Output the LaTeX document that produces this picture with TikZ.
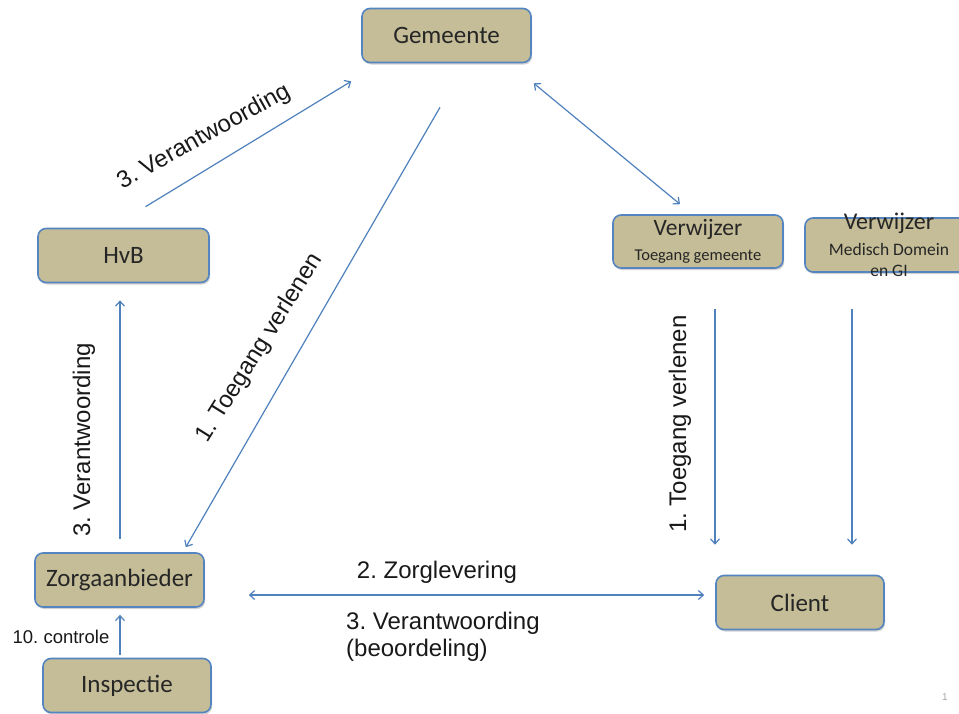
\documentclass[tikz,border=0pt]{standalone}
\usepackage{fontspec}
\setmainfont{Liberation Sans}
\newfontfamily\boxfont{Carlito}
\usetikzlibrary{arrows.meta,shadows,calc}
\definecolor{boxfill}{RGB}{196,189,151}
\definecolor{boxline}{RGB}{84,133,192}
\definecolor{arrline}{RGB}{79,129,189}
\frenchspacing
\tikzset{
  box/.style={draw=boxline, line width=1.6pt, fill=boxfill, rounded corners=8pt,
    minimum width=#1, minimum height=54pt, inner sep=0pt,
    drop shadow={opacity=0.35, shadow xshift=1.2pt, shadow yshift=-2pt},
    font=\boxfont\fontsize{25}{27}\selectfont, text=black!85},
  box/.default=169pt,
  boxtxt/.style={inner sep=0pt, anchor=base, text=black!85, font=\boxfont\fontsize{#1}{#1}\selectfont},
  arr/.style={draw=arrline, line width=1.2pt, -{Straight Barb[length=5pt,width=9pt]}},
  darr/.style={draw=arrline, line width=1.2pt, {Straight Barb[length=5pt,width=9pt]}-{Straight Barb[length=5pt,width=9pt]}},
  lbl/.style={font=\fontsize{24}{28}\selectfont, text=black!90, inner sep=0pt},
}
\begin{document}
\begin{tikzpicture}[x=1pt,y=-1pt]
\useasboundingbox (0,0) rectangle (959,713);
\clip (0,0) rectangle (959,713);
\fill[white] (0,0) rectangle (959,713);

% boxes
\node[box] (gem) at (446.5,35.5) {Gemeente};
\node[box=171pt] (hvb) at (123.5,255.5) {HvB};
\node[box=170pt, minimum height=53pt] (verw1) at (698,241.5) {};
\node[boxtxt=23.5] (verw1a) at (698,235) {Verwijzer};
\node[boxtxt=16.5] (verw1b) at (698,260) {Toegang gemeente};
\node[box=170pt] (verw2) at (890,245) {};
\node[boxtxt=24] (verw2a) at (889,229) {Verwijzer};
\node[boxtxt=17.5] (verw2b) at (889,255) {Medisch Domein};
\node[boxtxt=17.5] (verw2c) at (889,276) {en GI};
\node[box] (zorg) at (119.5,580) {Zorgaanbieder};
\node[box=168pt] (client) at (800,602.5) {Client};
\node[box=168pt] (insp) at (127,685.5) {Inspectie};

% connectors
\draw[arr] ([shift={(22,-21)}]hvb.north) -- ([shift={(-10,18)}]gem.south west);
\draw[arr] ([shift={(-6.5,44)}]gem.south) -- ([shift={(-19,-5)}]zorg.north east);
\draw[darr] ([shift={(2,20)}]gem.south east) -- ([shift={(-18,-10)}]verw1.north);
\draw[arr] ([shift={(0.5,-13)}]zorg.north) -- ([shift={(-3.5,17)}]hvb.south);
\draw[arr] ([shift={(17,40)}]verw1.south) -- ([shift={(-85,-30)}]client.north);
\draw[arr] ([shift={(-38,36)}]verw2.south) -- ([shift={(52,-30)}]client.north);
\draw[darr] ([shift={(44,15)}]zorg.east) -- ([shift={(-11,-7.5)}]client.west);
\draw[arr] ([shift={(-7,-3)}]insp.north) -- ([shift={(0.5,7)}]zorg.south);

% labels
\node[lbl, rotate=29] (l1) at (204,137) {3. Verantwoording};
\node[lbl, rotate=58] (l2) at (260,348) {1. Toegang verlenen};
\node[lbl, rotate=90] (l3) at (84,440) {3. Verantwoording};
\node[lbl, rotate=90] (l4) at (680,424) {1. Toegang verlenen};
\node[lbl] (l5) at (437,572) {2. Zorglevering};
\node[lbl, anchor=north west, align=left, font=\fontsize{24}{26.5}\selectfont] (l6) at (346,612) {3. Verantwoording\\(beoordeling)};
\node[lbl, font=\fontsize{18.5}{20}\selectfont] (l7) at (61,637) {10. controle};
\node[inner sep=0pt, text=black!35, font=\fontsize{10}{12}\selectfont] (pg) at (945,697) {1};
\end{tikzpicture}
\end{document}
